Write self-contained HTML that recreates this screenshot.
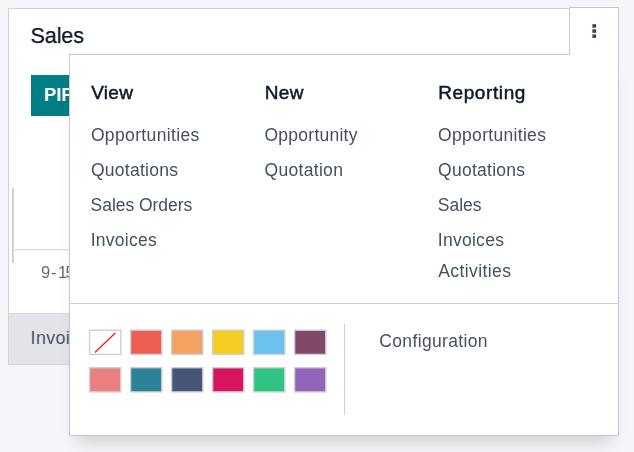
<!DOCTYPE html>
<html>
<head>
<meta charset="utf-8">
<title>Sales</title>
<style>
  html, body { margin: 0; padding: 0; }
  body {
    width: 634px; height: 452px; overflow: hidden; position: relative;
    background: #f5f6fa;
    font-family: "Liberation Sans", sans-serif;
    color: #4b5262;
  }
  .abs { position: absolute; white-space: nowrap; }

  /* kanban card */
  #card {
    position: absolute; left: 8px; top: 8px; width: 611px; height: 357px;
    box-sizing: border-box; background: #fff; border: 1px solid #d0d2d9;
  }
  #footer {
    position: absolute; left: 9px; top: 313px; width: 609px; height: 51px;
    background: #e3e4e8; border-top: 1px solid #d6d8de; box-sizing: border-box;
  }
  #title { left: 30.6px; top: 23.6px; font-size: 21.5px; line-height: 24px; color: #111827; -webkit-text-stroke: 0.25px #111827; letter-spacing: -0.1px; }
  #btn {
    position: absolute; left: 31px; top: 75px; width: 120px; height: 41px;
    background: #017e84; color: #fff; font-weight: bold;
    font-size: 18.2px; line-height: 41px; padding-left: 13.1px; padding-top: 0px; box-sizing: border-box;
    white-space: nowrap; overflow: hidden;
  }
  #axis-v { position: absolute; left: 12px; top: 188px; width: 1px; height: 75px; background: #cacaca; box-shadow: 1px 0 0 rgba(200,200,200,.7); }
  #axis-h { position: absolute; left: 13px; top: 249px; width: 60px; height: 1px; background: #dcdcdc; box-shadow: 0 1px 0 rgba(220,220,220,.25); }
  #tick { left: 41.1px; top: 263.4px; font-size: 16.5px; line-height: 18px; color: #6a6a6a; letter-spacing: 0.75px; will-change: transform; }
  #foot-text { left: 30.6px; top: 326.6px; font-size: 17.8px; line-height: 22px; color: #4f5667; letter-spacing: 0.38px; }

  /* dropdown toggle (kebab) */
  #toggle {
    position: absolute; left: 569px; top: 7px; width: 50px; height: 48px;
    box-sizing: border-box; background: #fff; border: 1px solid #c5c8cf; border-bottom: none;
    z-index: 3;
  }
  .dot { position: absolute; left: 592px; width: 4px; height: 4px; background: #374151; z-index: 4; }

  /* dropdown menu */
  #menu {
    position: absolute; left: 69px; top: 54px; width: 550px; height: 382px;
    box-sizing: border-box; background: #fff; border: 1px solid #c5c8cf;
    box-shadow: 0 14px 16px -8px rgba(0,0,0,.16);
    z-index: 2;
  }
  .layer { position: absolute; left: 0; top: 0; z-index: 5; }
  div.layer { will-change: transform; width: 634px; height: 452px; }
  .hd { font-size: 19px; line-height: 24px; font-weight: normal; color: #111827; -webkit-text-stroke: 0.5px #111827; }
  .it { font-size: 17.5px; line-height: 22px; color: #464f61; }
  #hr { position: absolute; left: 70px; top: 303px; width: 548px; height: 1px; background: #cfd1d8; z-index: 5; }
  #vr { position: absolute; left: 344px; top: 324px; width: 1px; height: 91px; background: #cfd1d8; z-index: 5; }

  .sw {
    position: absolute; width: 32px; height: 26px; box-sizing: border-box;
    border: 1px solid #d4d6dc; z-index: 5; background: #fff;
  }
  .sw i { position: absolute; left: 1px; top: 1px; right: 1px; bottom: 1px; display: block; }
</style>
</head>
<body>

<div id="card"></div>
<div id="footer"></div>
<div id="title" class="abs">Sales</div>
<div id="btn">PIPELINE</div>
<div id="axis-v"></div>
<div id="axis-h"></div>
<div id="tick" class="abs">9-<span style="margin-left:0.8px">1</span><span style="margin-left:-2.3px">5</span></div>
<div id="foot-text" class="abs">Invoices</div>

<div id="menu"></div>
<div id="toggle"></div>
<svg class="layer" width="634" height="452" style="z-index:6; pointer-events:none">
  <g fill="#374151">
    <rect x="592.4" y="24.2" width="3.7" height="3.5"/>
    <rect x="592.4" y="29.3" width="3.7" height="3.5"/>
    <rect x="592.4" y="34.4" width="3.7" height="3.5"/>
  </g>
</svg>

<div class="layer">
  <div class="abs hd" style="left:91.2px; top:80.8px; letter-spacing:0.3px;">View</div>
  <div class="abs hd" style="left:264.8px; top:80.8px; letter-spacing:0.35px;">New</div>
  <div class="abs hd" style="left:438.2px; top:80.8px; letter-spacing:0.6px;">Reporting</div>
  <div class="abs it" style="left:90.9px; top:124px; letter-spacing:0.36px;">Opportunities</div>
  <div class="abs it" style="left:90.9px; top:159px; letter-spacing:0.28px;">Quotations</div>
  <div class="abs it" style="left:90.6px; top:194px; letter-spacing:-0.05px;">Sales Orders</div>
  <div class="abs it" style="left:90.7px; top:229px; letter-spacing:0.27px;">Invoices</div>
  <div class="abs it" style="left:264.5px; top:124px; letter-spacing:0.25px;">Opportunity</div>
  <div class="abs it" style="left:264.5px; top:159px; letter-spacing:0.31px;">Quotation</div>
  <div class="abs it" style="left:438.1px; top:124px; letter-spacing:0.31px;">Opportunities</div>
  <div class="abs it" style="left:438.1px; top:159px; letter-spacing:0.25px;">Quotations</div>
  <div class="abs it" style="left:437.8px; top:194px; letter-spacing:0.0px;">Sales</div>
  <div class="abs it" style="left:437.8px; top:229px; letter-spacing:0.27px;">Invoices</div>
  <div class="abs it" style="left:438.2px; top:260px; letter-spacing:0.42px;">Activities</div>
  <div class="abs it" style="left:379.3px; top:330px; letter-spacing:0.35px;">Configuration</div>
</div>

<div id="hr"></div>
<div id="vr"></div>

<!-- colour swatches -->
<svg class="layer" width="634" height="452" style="z-index:6; pointer-events:none">
  <rect x="89.60" y="330.20" width="31.20" height="24.20" fill="#ffffff" stroke="#cdd0d8" stroke-width="1.4"/>
  <rect x="130.60" y="330.20" width="31.20" height="24.20" fill="#ee5e50" stroke="#cdd0d8" stroke-width="1.4"/>
  <rect x="171.60" y="330.20" width="31.20" height="24.20" fill="#f4a261" stroke="#cdd0d8" stroke-width="1.4"/>
  <rect x="212.60" y="330.20" width="31.20" height="24.20" fill="#f5cc1f" stroke="#cdd0d8" stroke-width="1.4"/>
  <rect x="253.60" y="330.20" width="31.20" height="24.20" fill="#6cc1ed" stroke="#cdd0d8" stroke-width="1.4"/>
  <rect x="294.60" y="330.20" width="31.20" height="24.20" fill="#804967" stroke="#cdd0d8" stroke-width="1.4"/>
  <rect x="89.60" y="367.70" width="31.20" height="24.20" fill="#eb7e7f" stroke="#cdd0d8" stroke-width="1.4"/>
  <rect x="130.60" y="367.70" width="31.20" height="24.20" fill="#2c8397" stroke="#cdd0d8" stroke-width="1.4"/>
  <rect x="171.60" y="367.70" width="31.20" height="24.20" fill="#475577" stroke="#cdd0d8" stroke-width="1.4"/>
  <rect x="212.60" y="367.70" width="31.20" height="24.20" fill="#d6145f" stroke="#cdd0d8" stroke-width="1.4"/>
  <rect x="253.60" y="367.70" width="31.20" height="24.20" fill="#30c381" stroke="#cdd0d8" stroke-width="1.4"/>
  <rect x="294.60" y="367.70" width="31.20" height="24.20" fill="#9365b8" stroke="#cdd0d8" stroke-width="1.4"/>
  <line x1="95.4" y1="352.1" x2="115" y2="333.2" stroke="#f02525" stroke-width="1.4" stroke-linecap="round"/>
</svg>

</body>
</html>
